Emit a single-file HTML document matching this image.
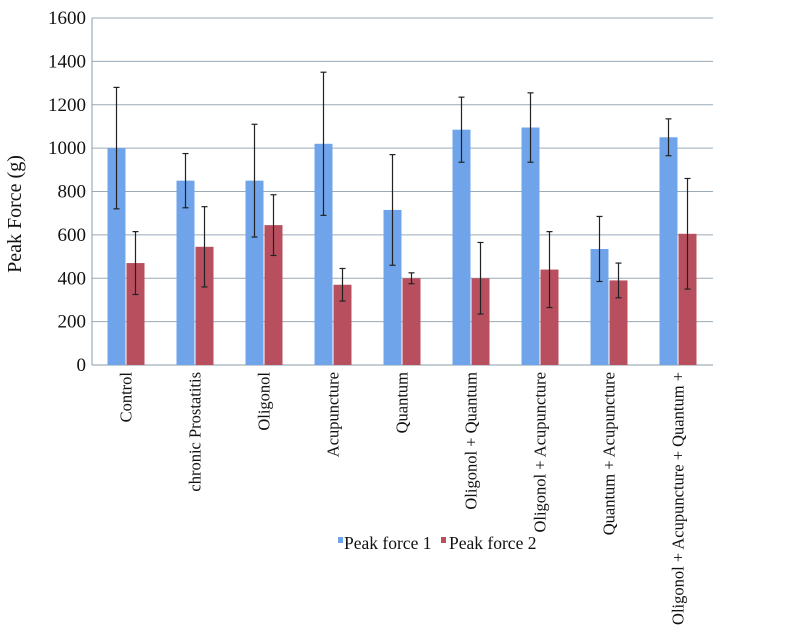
<!DOCTYPE html>
<html><head><meta charset="utf-8"><style>
body{margin:0;background:#fff;}
svg{display:block;font-family:"Liberation Serif",serif;}
</style></head><body>
<svg id="c" width="807" height="636"></svg>
<script>
const categories=["Control","chronic Prostatitis","Oligonol","Acupuncture","Quantum","Oligonol + Quantum","Oligonol + Acupuncture","Quantum + Acupuncture","Oligonol + Acupuncture + Quantum +"];
const peak1=[1000,850,850,1020,715,1085,1095,535,1050];
const peak1Err=[280,125,260,330,255,150,160,150,85];
const peak2=[470,545,645,370,400,400,440,390,605];
const peak2Err=[145,185,140,75,25,165,175,80,255];
const yTicks=[0,200,400,600,800,1000,1200,1400,1600];
const NS="http://www.w3.org/2000/svg";
const svg=document.getElementById('c');
const X0=92,X1=713,Y0=365,Y1=18;
const y=v=>Y0-(v/1600)*(Y0-Y1);
const cw=(X1-X0)/categories.length;
const cx=i=>X0+cw*(i+0.5);
function mk(t,a){const e=document.createElementNS(NS,t);for(const k in a)e.setAttribute(k,a[k]);svg.appendChild(e);return e;}
yTicks.forEach(v=>{
  const l=mk('line',{x1:X0,x2:X1,y1:y(v),y2:y(v),stroke:v===0?'#8a9aa8':'#9aaab6','stroke-width':1});
  
  
  const t=mk('text',{x:86,y:y(v)+6,'text-anchor':'end','font-size':19,fill:'#111'});
  t.textContent=v;
  
  
});
const ax=mk('line',{x1:X0,x2:X0,y1:Y1,y2:Y0,stroke:'#8a9aa8'});


const yt=mk('text',{transform:'translate(21,214) rotate(-90)','text-anchor':'middle','font-size':20,fill:'#111'});
yt.textContent='Peak Force (g)';


const bw=18;
function err(xc,v,e,name){
  const g=mk('g',{stroke:'#222','stroke-width':1.2});
  
  
  [[xc,y(v+e),xc,y(v-e)],[xc-3,y(v+e),xc+3,y(v+e)],[xc-3,y(v-e),xc+3,y(v-e)]].forEach(p=>{
    const l=document.createElementNS(NS,'line');
    l.setAttribute('x1',p[0]);l.setAttribute('y1',p[1]);l.setAttribute('x2',p[2]);l.setAttribute('y2',p[3]);g.appendChild(l);});
}
categories.forEach((c,i)=>{
  const m=cx(i);
  const b1=mk('rect',{x:m-bw-1,y:y(peak1[i]),width:bw,height:Y0-y(peak1[i]),fill:'#6fa4ea'});
  
  
  const b2=mk('rect',{x:m,y:y(peak2[i]),width:bw,height:Y0-y(peak2[i]),fill:'#b84f5f'});
  
  
  err(m-bw/2-1,peak1[i],peak1Err[i],'error-bar-peak1-'+i);
  err(m+bw/2,peak2[i],peak2Err[i],'error-bar-peak2-'+i);
  const t=mk('text',{transform:`translate(${m+5},372) rotate(-90)`,'text-anchor':'end','font-size':16.5,fill:'#111'});
  t.textContent=c;
  
  
});
const l1=mk('rect',{x:338,y:537,width:5,height:6,fill:'#6fa4ea'});


const t1=mk('text',{x:344,y:549,'font-size':17.5,fill:'#111'});t1.textContent='Peak force 1';


const l2=mk('rect',{x:441,y:537,width:5,height:6,fill:'#b84f5f'});


const t2=mk('text',{x:449,y:549,'font-size':17.5,fill:'#111'});t2.textContent='Peak force 2';


</script>
</body></html>
